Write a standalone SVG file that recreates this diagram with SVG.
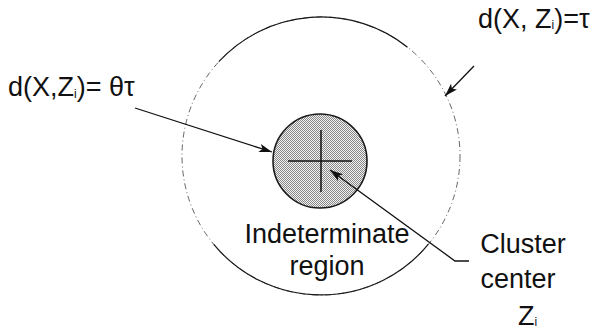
<svg xmlns="http://www.w3.org/2000/svg" width="594" height="331" viewBox="0 0 594 331">
<style>
text{font-family:"Liberation Sans",Arial,sans-serif;font-size:27px;fill:#111}
.sub{font-size:12px}
.solid{fill:none;stroke:#1a1a1a;stroke-width:1.2}
.faint{fill:none;stroke:#666;stroke-width:1;stroke-dasharray:6 3 1 3}
.conn{fill:none;stroke:#111;stroke-width:1.3}
</style>
<defs>
<pattern id="dots" width="2" height="2" patternUnits="userSpaceOnUse">
<rect width="2" height="2" fill="#f2f2f2"/>
<rect width="1" height="1" fill="#888"/>
<rect x="1" y="1" width="1" height="1" fill="#888"/>
</pattern>
<marker id="ah" markerUnits="userSpaceOnUse" markerWidth="14" markerHeight="10" refX="13" refY="5" orient="auto">
<path d="M0,0.8 L13,5 L0,9.2 L3,5 z" fill="#111"/>
</marker>
</defs>
<g id="outer-circle">
<circle cx="321" cy="156" r="139" class="faint"/>
<path class="solid" d="M218.8,61.7 A139,139 0 0 1 407.5,47.2"/>
<path class="solid" d="M428.4,244.2 A139,139 0 0 1 213.8,244.4"/>
</g>
<g id="inner-circle">
<circle cx="320" cy="161" r="47" fill="url(#dots)" stroke="#1a1a1a" stroke-width="1.6"/>
<line x1="288" y1="161" x2="352" y2="161" stroke="#111" stroke-width="1.5"/>
<line x1="321" y1="130" x2="321" y2="192" stroke="#111" stroke-width="1.5"/>
</g>
<g id="connectors">
<line class="conn" x1="135" y1="108" x2="272" y2="152" marker-end="url(#ah)"/>
<line class="conn" x1="474" y1="66" x2="445" y2="96" marker-end="url(#ah)"/>
<polyline class="conn" points="469,261 455,261 330,170" marker-end="url(#ah)"/>
</g>
<g id="label-tau">
<text x="478" y="28">d(X, Z<tspan class="sub" dy="1">i</tspan><tspan dy="-1">)=τ</tspan></text>
</g>
<g id="label-thetatau">
<text x="8" y="96">d(X,Z<tspan class="sub" dy="2">i</tspan><tspan dy="-2">)= θτ</tspan></text>
</g>
<g id="label-indeterminate">
<text x="327" y="243" text-anchor="middle">Indeterminate</text>
<text x="327" y="275" text-anchor="middle">region</text>
</g>
<g id="label-cluster">
<text x="523" y="253" text-anchor="middle">Cluster</text>
<text x="518" y="288" text-anchor="middle">center</text>
<text x="518" y="325">Z<tspan class="sub" dy="1">i</tspan></text>
</g>
</svg>
